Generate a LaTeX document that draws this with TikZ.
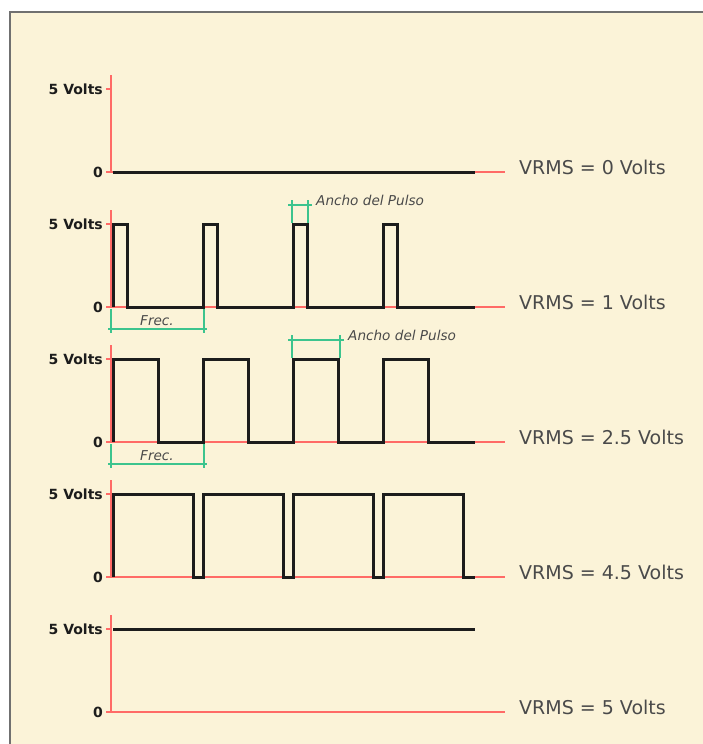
\documentclass[tikz,border=0pt]{standalone}
\usepackage{fontspec}
\setmainfont{DejaVu Sans}
\definecolor{paper}{HTML}{FBF3D8}
\definecolor{framegray}{HTML}{707070}
\definecolor{axisred}{HTML}{FF6A66}
\definecolor{dimgreen}{HTML}{3CC48E}
\definecolor{labelgray}{HTML}{4A4A4A}
\definecolor{levelink}{HTML}{1C1C1C}
\begin{document}
\begin{tikzpicture}[x=1pt,y=-1pt,
  axisline/.style={axisred, line width=1.6pt},
  signal/.style={levelink, line width=3pt, line join=miter},
  dimline/.style={dimgreen, line width=1.2pt},
  level/.style={font=\bfseries\fontsize{14}{15}\selectfont, text=levelink, anchor=east, inner sep=0pt},
  vrms/.style={font=\fontsize{19}{20}\selectfont, text=labelgray, anchor=west, inner sep=0pt},
  note/.style={font=\itshape\fontsize{13.6}{15}\selectfont, text=labelgray, inner sep=0pt}]
\useasboundingbox (0,0) rectangle (703,744);
\fill[white] (0,0) rectangle (703,744);
\fill[paper] (10,12) rectangle (703,744);
\draw[framegray, line width=2pt] (10,744) -- (10,12) -- (703,12);

% axes, level ticks, labels and VRMS value of each trace
\foreach \z/\n/\v in {172/a/0, 307/b/1, 442/c/2.5, 577/d/4.5, 712/e/5}{
  \draw[axisline] (111,\z-97) -- (111,\z);
  \draw[axisline] (106,\z-83) -- (111,\z-83);
  \draw[axisline] (106,\z) -- (505,\z);
  \node[level] (high\n) at (103,\z-83) {5 Volts};
  \node[level] (low\n) at (103,\z) {0};
  \node[vrms] (rms\n) at (519,\z-4.5) {VRMS = \v\ Volts};
}

% 0 % duty
\draw[signal] (113,172) -- (475,172);
% pulse trains: period 90, pulse widths 14, 45 and 80
\foreach \z/\w in {307/14, 442/45, 577/80}{
  \draw[signal] (113,\z)
    \foreach \s in {113,203,293,383}{ -- (\s,\z) -- (\s,\z-83) -- (\s+\w,\z-83) -- (\s+\w,\z) }
    -- (475,\z);
}
% 100 % duty
\draw[signal] (113,629) -- (475,629);

% period marks
\foreach \z/\n in {307/b, 442/c}{
  \coordinate (fa\n) at (111,\z+2);
  \coordinate (fb\n) at (204,\z+2);
  \draw[dimline] (fa\n) -- ++(0,24);
  \draw[dimline] (fb\n) -- ++(0,24);
  \draw[dimline] ([xshift=-3pt,yshift=-20pt]fa\n) -- ([xshift=3pt,yshift=-20pt]fb\n);
  \node[note] (frec\n) at (157,\z+14) {Frec.};
}

% pulse width marks
\foreach \z/\w/\n in {307/16/b, 442/48/c}{
  \coordinate (pa\n) at (292,\z-107);
  \coordinate (pb\n) at (292+\w,\z-107);
  \draw[dimline] (pa\n) -- ++(0,23);
  \draw[dimline] (pb\n) -- ++(0,23);
  \draw[dimline] ([xshift=-4pt,yshift=-5pt]pa\n) -- ([xshift=4pt,yshift=-5pt]pb\n);
  \node[note, anchor=west] (ancho\n) at ([xshift=8pt]pb\n) {Ancho del Pulso};
}
\end{tikzpicture}
\end{document}
